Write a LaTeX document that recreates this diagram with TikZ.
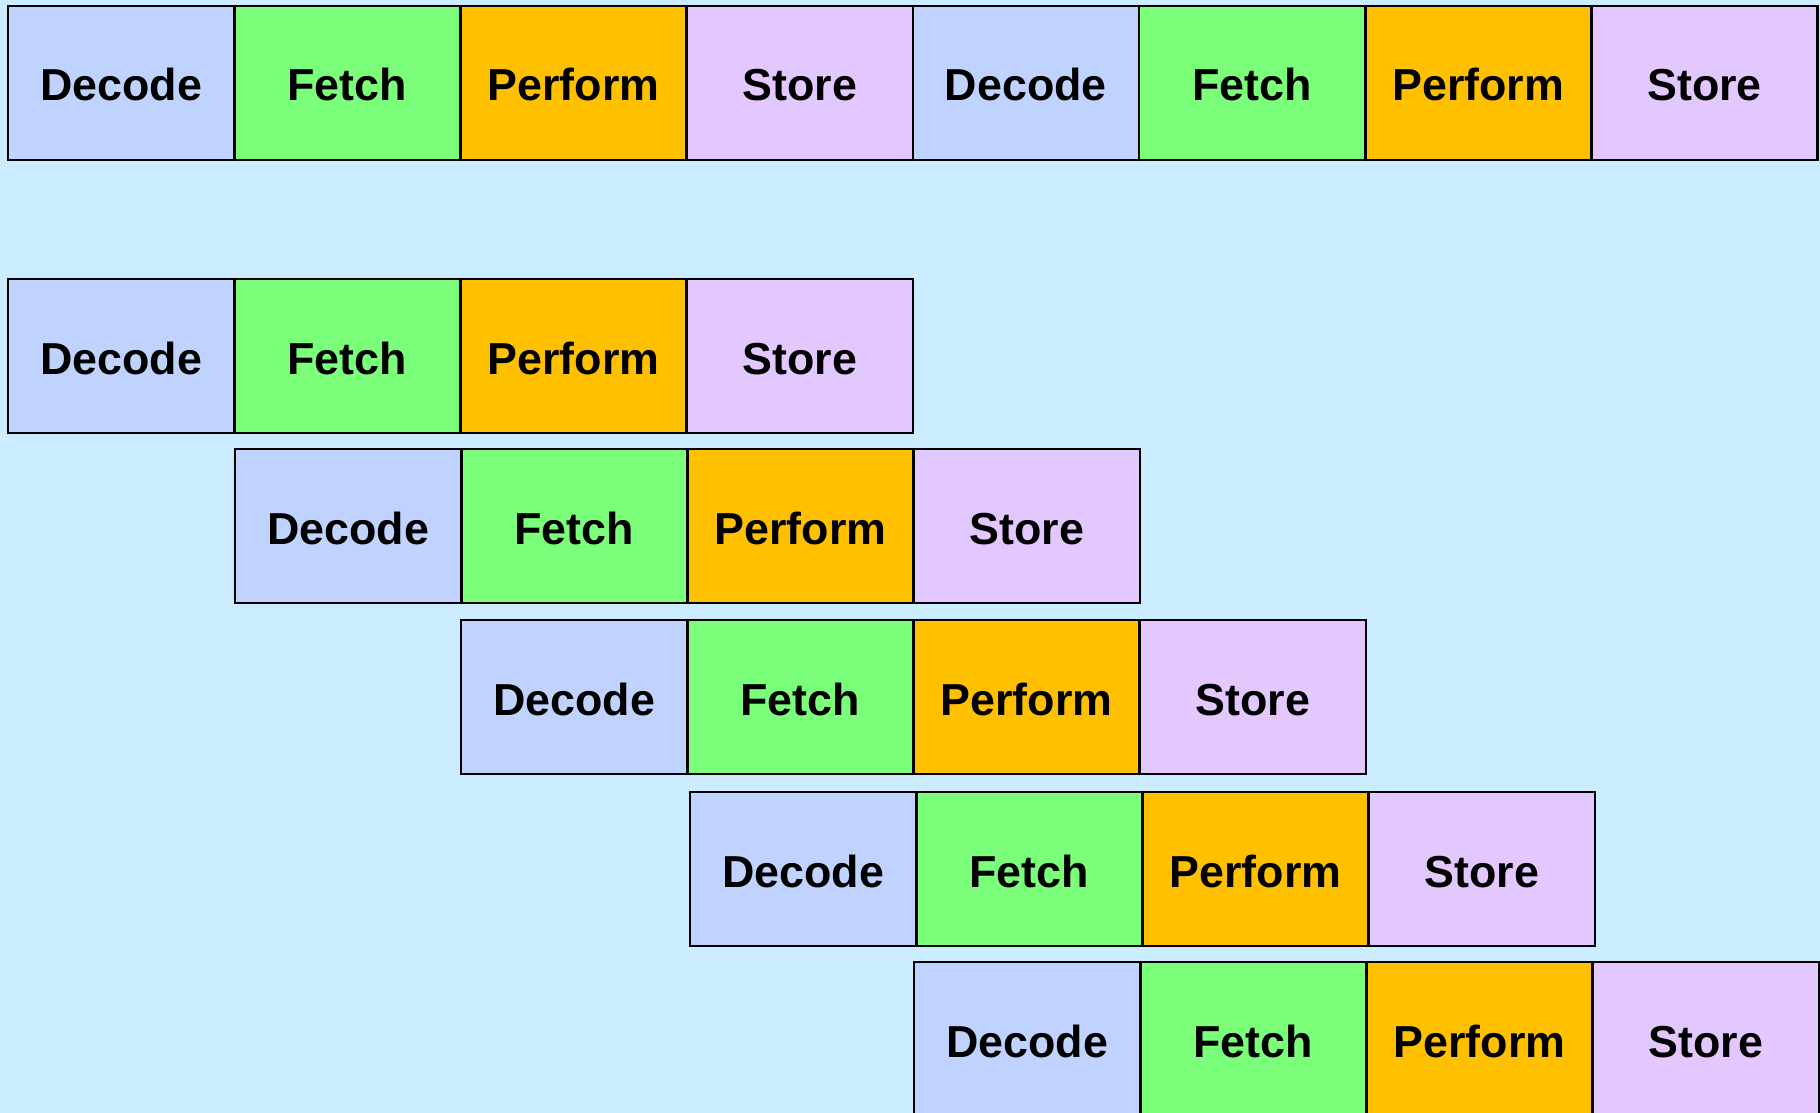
\documentclass[tikz,border=0pt]{standalone}
\usepackage{fontspec}
\setmainfont{Liberation Sans}
\definecolor{bgblue}{HTML}{CCECFF}
\definecolor{decodec}{HTML}{C0D3FF}
\definecolor{fetchc}{HTML}{7BFF7B}
\definecolor{performc}{HTML}{FFC000}
\definecolor{storec}{HTML}{E3C8FF}
\begin{document}
\begin{tikzpicture}[x=1pt,y=-1pt,
  stage/.style={draw=black, line width=2.6pt, minimum width=226.2pt,
    minimum height=154pt, inner sep=0pt, outer sep=0pt, anchor=north west,
    text height=36pt, text depth=0pt,
    font=\fontsize{44.8}{50}\selectfont\bfseries},
  decode/.style={stage, fill=decodec},
  fetch/.style={stage, fill=fetchc},
  perform/.style={stage, fill=performc},
  store/.style={stage, fill=storec}]
  \clip (0,0) rectangle (1820,1113);
  \fill[bgblue] (0,0) rectangle (1820,1113);
  % sequential execution: two instructions one after another
  \foreach \k/\st/\lab [count=\i] in {0/decode/Decode,1/fetch/Fetch,2/perform/Perform,3/store/Store,
                                      4/decode/Decode,5/fetch/Fetch,6/perform/Perform,7/store/Store}
    \node[\st] (s\i) at ({8+226.2*\k},6) {\lab};
  % pipelined execution: each instruction starts one stage later
  \foreach \r/\x/\y in {1/8/279, 2/235/449, 3/461/620, 4/690/792, 5/914/962} {
    \node[decode]  (p\r a) at (\x,\y) {Decode};
    \node[fetch]   (p\r b) at ({\x+226.2},\y) {Fetch};
    \node[perform] (p\r c) at ({\x+452.4},\y) {Perform};
    \node[store]   (p\r d) at ({\x+678.6},\y) {Store};
  }
\end{tikzpicture}
\end{document}
